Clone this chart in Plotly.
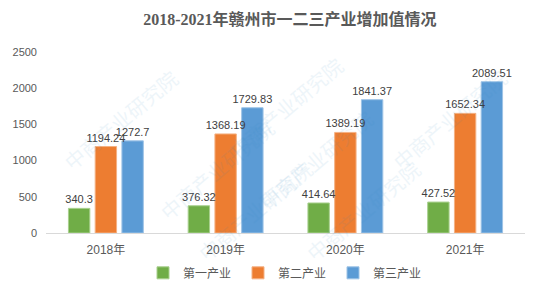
import plotly.graph_objects as go

years = ["2018年", "2019年", "2020年", "2021年"]
primary = [340.3, 376.32, 414.64, 427.52]
secondary = [1194.24, 1368.19, 1389.19, 1652.34]
tertiary = [1272.7, 1729.83, 1841.37, 2089.51]
series_names = ["第一产业", "第二产业", "第三产业"]
colors = ["#70AD47", "#ED7D31", "#5B9BD5"]
edge_colors = ["#A9D08E", "#F4B183", "#9DC3E6"]

fig = go.Figure()
all_vals = [primary, secondary, tertiary]
for i, (name, vals, c, ec) in enumerate(zip(series_names, all_vals, colors, edge_colors)):
    fig.add_trace(go.Bar(
        x=years, y=vals, name=name, offsetgroup=str(i),
        marker=dict(color=c, line=dict(color=ec, width=1)),
        hoverinfo="skip",
    ))
# label layer drawn on top of all bars
for i, (name, vals) in enumerate(zip(series_names, all_vals)):
    fig.add_trace(go.Bar(
        x=years, y=vals, name=name, offsetgroup=str(i), showlegend=False,
        marker=dict(color="rgba(0,0,0,0)", line=dict(width=0)),
        text=[f"{v:g}" for v in vals], textposition="outside", constraintext="none",
        textfont=dict(size=11, color="#404040", family="Liberation Sans, Arial"),
        cliponaxis=False, hoverinfo="skip",
    ))

# faint watermark
wm_pos = [(0.02, 0.95), (0.5, 1.02), (0.98, 0.95), (0.22, 0.35), (0.7, 0.4), (0.3, -0.2), (0.8, -0.2)]
for (wx, wy) in wm_pos:
    fig.add_annotation(text="中商产业研究院", x=wx, y=wy, xref="paper", yref="paper",
                       showarrow=False, textangle=-40, opacity=0.08,
                       font=dict(size=20, color="#2E86C1", family="Noto Sans CJK SC"))

fig.update_layout(
    width=552, height=303,
    margin=dict(l=46, r=27, t=52, b=70),
    paper_bgcolor="white", plot_bgcolor="white",
    title=dict(text="<b>2018-2021年赣州市一二三产业增加值情况</b>", x=0.525, xanchor="center", y=0.955, yanchor="top",
               font=dict(size=16, color="#595959", family="Liberation Serif, Noto Sans CJK SC")),
    barmode="group", bargap=0.33, bargroupgap=0.2,
    font=dict(family="Liberation Sans, Noto Sans CJK SC", color="#595959"),
    showlegend=True,
    legend=dict(orientation="h", x=0.5, xanchor="center", y=-0.14, yanchor="top",
                font=dict(size=12, color="#595959"), itemwidth=30,
                entrywidth=50, entrywidthmode="pixels"),
    xaxis=dict(showline=True, linecolor="#D9D9D9", linewidth=1, ticks="", automargin=False,
               tickfont=dict(size=12, color="#595959"), ticklabelstandoff=6),
    yaxis=dict(range=[0, 2500], dtick=500, showgrid=False, zeroline=False, showline=False,
               automargin=False, tickfont=dict(size=11, color="#595959"), ticklabelstandoff=8),
)

fig.write_html("out.html", config={"displayModeBar": False},
               post_script="document.body.style.margin='0';document.body.style.padding='0';")
